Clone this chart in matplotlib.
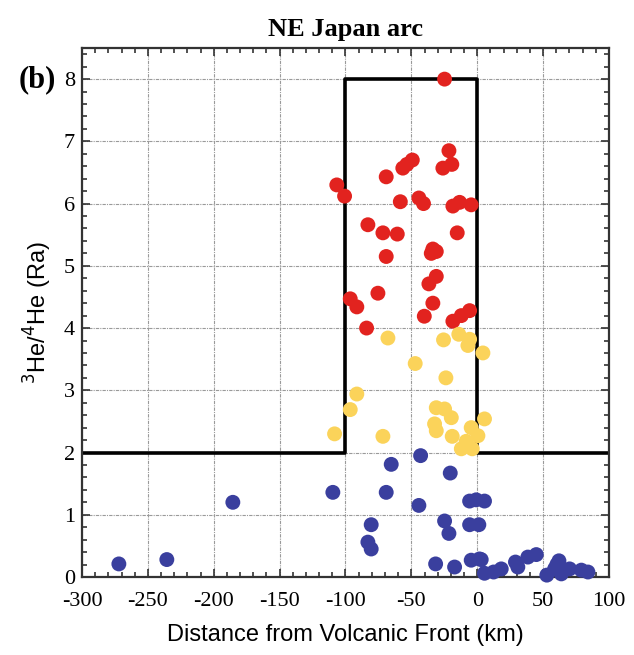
#!/usr/bin/env python3
# coding: utf-8
import numpy as np
import matplotlib
matplotlib.use("Agg")
import matplotlib.pyplot as plt
from matplotlib.ticker import MultipleLocator

plt.rcParams["axes.unicode_minus"] = False

# Data (distance in km, 3He/4He in Ra)
red_x = [-24.8, -21.5, -19.3, -26.1, -49.3, -53.4, -56.5, -69.1, -106.6, -100.7,
         -58.4, -44.3, -40.8, -18.5, -13.4, -4.6, -83.0, -71.6, -60.7, -69.1,
         -15.2, -33.7, -34.9, -31.1, -31.1, -36.7, -75.4, -96.4, -91.4, -33.7,
         -40.2, -18.5, -12.1, -5.8, -84.0]
red_y = [8.00, 6.85, 6.63, 6.57, 6.70, 6.63, 6.57, 6.43, 6.30, 6.12,
         6.03, 6.09, 6.00, 5.96, 6.02, 5.98, 5.66, 5.53, 5.51, 5.15,
         5.53, 5.27, 5.20, 5.23, 4.83, 4.71, 4.56, 4.47, 4.34, 4.40,
         4.19, 4.11, 4.20, 4.28, 4.00]

yel_x = [-67.8, -25.6, -14.0, -5.8, -7.1, 4.3, -47.1, -23.8, -91.4, -96.4,
         -108.3, -71.6, -31.1, -24.8, -19.7, -32.4, -31.1, -19.0, -4.6, 5.5,
         0.5, -8.4, -12.1, -3.8, -8.4]
yel_y = [3.84, 3.81, 3.90, 3.82, 3.72, 3.60, 3.43, 3.20, 2.94, 2.69,
         2.30, 2.26, 2.72, 2.70, 2.56, 2.46, 2.35, 2.26, 2.40, 2.54,
         2.27, 2.18, 2.06, 2.06, 2.11]

blue_x = [-43.0, -65.3, -20.5, -69.1, -44.3, -5.8, -0.8, 5.5, -80.5, -24.8,
          -21.5, -5.8, 1.2, -83.0, -80.5, -31.6, -17.2, -4.6, 1.7, 5.5,
          12.4, -109.6, -185.5, -235.6, -272.0, 3.0, 18.2, 30.8, 29.0, 38.4,
          44.8, 52.8, 62.0, 58.7, 63.8, 70.1, 79.0, 84.0, 60.4]
blue_y = [1.95, 1.81, 1.67, 1.36, 1.15, 1.22, 1.24, 1.22, 0.84, 0.90,
          0.70, 0.84, 0.84, 0.56, 0.45, 0.21, 0.16, 0.27, 0.29, 0.06,
          0.08, 1.36, 1.20, 0.28, 0.21, 0.28, 0.13, 0.16, 0.24, 0.32,
          0.36, 0.03, 0.26, 0.13, 0.05, 0.13, 0.11, 0.08, 0.20]

# outline of the 3He/4He criterion
box_x = [-300, -100, -100, 0, 0, 100]
box_y = [2, 2, 8, 8, 2, 2]

serif = ["Liberation Serif", "DejaVu Serif"]
sans = ["Liberation Sans", "DejaVu Sans"]

fig = plt.figure(figsize=(6.34, 6.55), dpi=100)
ax = fig.add_axes([0.1293, 0.1191, 0.8313, 0.8076])

ax.grid(True, which="major", color="#9a9a9a", linestyle=(0, (3, 1, 1, 1)), linewidth=0.8)
ax.set_axisbelow(True)

ax.plot(box_x, box_y, color="black", linewidth=2.6, zorder=2)

ms = 115
ax.scatter(red_x, red_y, s=ms, color="#e2231f", edgecolors="none", zorder=3, clip_on=False)
ax.scatter(yel_x, yel_y, s=ms, color="#fbd35a", edgecolors="none", zorder=3, clip_on=False)
ax.scatter(blue_x, blue_y, s=ms, color="#3a3f9e", edgecolors="none", zorder=3, clip_on=False)

ax.set_xlim(-300, 100)
ax.set_ylim(0, 8.5)
ax.xaxis.set_major_locator(MultipleLocator(50))
ax.xaxis.set_minor_locator(MultipleLocator(10))
ax.yaxis.set_major_locator(MultipleLocator(1))
ax.yaxis.set_minor_locator(MultipleLocator(0.2))
ax.tick_params(which="both", direction="in", top=True, right=True, width=1.2, colors="#333333")
ax.tick_params(which="major", length=6, labelsize=16)
ax.tick_params(axis="x", which="major", pad=11)
ax.tick_params(axis="y", which="major", pad=5)
ax.tick_params(which="minor", length=3.5)
for lab in ax.get_xticklabels() + ax.get_yticklabels():
    lab.set_family(serif)
    lab.set_color("black")
for sp in ax.spines.values():
    sp.set_linewidth(1.6)
    sp.set_color("#333333")

ax.set_xlabel("Distance from Volcanic Front (km)", family=sans, fontsize=17, labelpad=9)
ax.set_ylabel(r"$^{3}$He/$^{4}$He (Ra)", family=sans, fontsize=17, labelpad=7)
ax.set_title("NE Japan arc", family=serif, fontsize=19, fontweight="bold", pad=9)
fig.text(0.03, 0.878, "(b)", family=serif, fontsize=22, fontweight="bold", va="center")

fig.savefig("out.png", dpi=100)
